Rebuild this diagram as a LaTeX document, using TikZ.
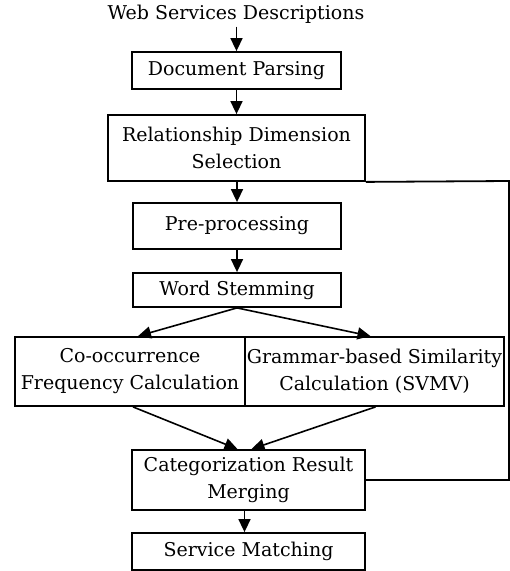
\documentclass[tikz,border=0pt]{standalone}
\usepackage{fontspec}
\setmainfont{DejaVu Serif}
\usetikzlibrary{arrows.meta}
\begin{document}
\begin{tikzpicture}[x=1pt,y=-1pt,
  every node/.style={font=\fontsize{19}{27}\selectfont},
  box/.style={draw,line width=1.8pt,inner sep=0pt,align=center},
  flow/.style={line width=1.6pt,-{Triangle[length=13pt,width=12pt]}},
  link/.style={line width=1.8pt}]
\useasboundingbox (0,0) rectangle (510,571);
% title
\node (title) at (236,14) {Web Services Descriptions};
% main chain of boxes
\node[box,minimum width=209pt,minimum height=37pt] (dp) at (236.5,70.5) {Document Parsing};
\node[box,minimum width=257pt,minimum height=66pt] (rds) at (236.5,148) {Relationship Dimension\\Selection};
\node[box,minimum width=208pt,minimum height=46pt] (pre) at (237,226) {Pre-processing};
\node[box,minimum width=208pt,minimum height=34pt] (ws) at (237,290) {Word Stemming};
\node[box,minimum width=230pt,minimum height=69pt] (cof) at (130,371.5) {Co-occurrence\\Frequency Calculation};
\node[box,minimum width=259pt,minimum height=69pt] (gbs) at (374.5,371.5) {Grammar-based Similarity\\Calculation (SVMV)};
\node[box,minimum width=233pt,minimum height=60pt] (crm) at (248.5,480) {Categorization Result\\Merging};
\node[box,minimum width=233pt,minimum height=37pt] (sm) at (248.5,551.5) {Service Matching};
% connectors
\draw[flow] (title.south -| dp.north) -- (dp.north);
\draw[flow] (dp.south) -- (rds.north);
\draw[flow] (rds.south -| pre.north) -- (pre.north);
\draw[flow] (pre.south) -- (ws.north);
\draw[flow] (ws.south) -- ([xshift=8pt]cof.north);
\draw[flow] (ws.south) -- ([xshift=-4pt]gbs.north);
\draw[flow] ([xshift=3pt]cof.south) -- ([xshift=-11pt]crm.north);
\draw[flow] ([xshift=1pt]gbs.south) -- ([xshift=3pt]crm.north);
\draw[flow] ([xshift=-4pt]crm.south) -- ([xshift=-4pt]sm.north);
% feedback path
\coordinate (fbTop) at (509,181);
\draw[link] (rds.south east) -- (fbTop) -- (fbTop |- crm.east) -- (crm.east);
\end{tikzpicture}
\end{document}
